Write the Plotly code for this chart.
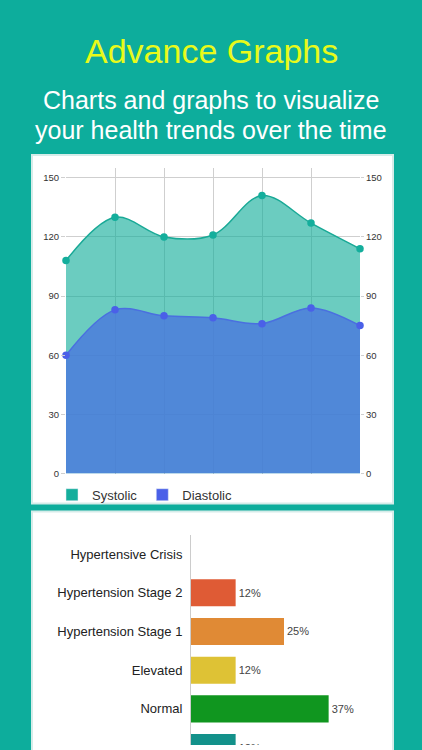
import plotly.graph_objects as go

# blood pressure readings (one per visit)
visits = [0, 1, 2, 3, 4, 5, 6]
systolic = [108, 130, 120, 121, 141, 127, 114]
diastolic = [60, 83, 80, 79, 76, 84, 75]
bp_ticks = [0, 30, 60, 90, 120, 150]

# share of readings per category
categories = [
    "Hypertensive Crisis",
    "Hypertension Stage 2",
    "Hypertension Stage 1",
    "Elevated",
    "Normal",
    "Low",
]
shares = [0, 12, 25, 12, 37, 12]
bar_colors = ["#D9342B", "#DF5B35", "#E08A35", "#DEC235", "#10961F", "#13918A"]

W, H = 422, 750
FONT = "Liberation Sans, Arial, Helvetica, sans-serif"
TEAL = "#0DAD9C"


def px_x(x):
    return x / W


def px_y(y):
    return 1 - y / H


fig = go.Figure()

# area chart
fig.add_trace(
    go.Scatter(
        x=visits,
        y=systolic,
        mode="lines+markers",
        line=dict(shape="spline", color="#19A996", width=1.5),
        marker=dict(size=7.5, color="#14AE9C"),
        fill="tozeroy",
        fillcolor="rgba(20,174,156,0.63)",
        cliponaxis=False,
        showlegend=False,
        hoverinfo="skip",
    )
)
fig.add_trace(
    go.Scatter(
        x=visits,
        y=diastolic,
        mode="lines+markers",
        line=dict(shape="spline", color="#4A6FE0", width=1.5),
        marker=dict(size=7.5, color="#4A60E8"),
        fill="tozeroy",
        fillcolor="rgba(74,119,221,0.8)",
        cliponaxis=False,
        showlegend=False,
        hoverinfo="skip",
    )
)
# invisible trace so the right axis is drawn
fig.add_trace(
    go.Scatter(
        x=visits,
        y=systolic,
        yaxis="y2",
        mode="markers",
        marker=dict(opacity=0),
        showlegend=False,
        hoverinfo="skip",
    )
)
# square legend keys
fig.add_trace(go.Bar(x=[None], y=[None], name="Systolic", marker_color="#14AE9C"))
fig.add_trace(go.Bar(x=[None], y=[None], name="Diastolic", marker_color="#4A60E8"))

# category bar chart
fig.add_trace(
    go.Bar(
        x=shares,
        y=categories,
        orientation="h",
        xaxis="x2",
        yaxis="y3",
        width=0.7,
        marker=dict(color=bar_colors, line=dict(width=0)),
        text=[f"{v}%" if v else "" for v in shares],
        textposition="outside",
        textfont=dict(size=11, color="#444444"),
        cliponaxis=True,
        showlegend=False,
        hoverinfo="skip",
    )
)

grid = "#CFCFCF"
tick_font = dict(size=9.5, color="#333333")

fig.update_layout(
    width=W,
    height=H,
    margin=dict(l=0, r=0, t=0, b=0),
    paper_bgcolor=TEAL,
    plot_bgcolor="white",
    font=dict(family=FONT),
    xaxis=dict(
        domain=[px_x(66), px_x(360)],
        range=[0, 6],
        tickvals=visits,
        showticklabels=False,
        showgrid=True,
        gridcolor=grid,
        zeroline=False,
        anchor="y",
    ),
    yaxis=dict(
        domain=[px_y(476.7), px_y(169)],
        range=[0, 155],
        tickvals=bp_ticks,
        gridcolor=grid,
        zeroline=False,
        ticks="outside",
        ticklen=4,
        tickcolor=grid,
        tickfont=tick_font,
        anchor="x",
    ),
    yaxis2=dict(
        overlaying="y",
        side="right",
        range=[0, 155],
        tickvals=bp_ticks,
        showgrid=False,
        zeroline=False,
        ticks="outside",
        ticklen=3,
        tickcolor=grid,
        tickfont=tick_font,
        anchor="x",
    ),
    xaxis2=dict(
        domain=[px_x(191), px_x(377)],
        range=[0, 50],
        visible=False,
        anchor="y3",
    ),
    yaxis3=dict(
        domain=[0, px_y(538.2)],
        range=[4.931, -0.5],
        showline=True,
        linecolor="#CCCCCC",
        linewidth=1,
        showgrid=False,
        ticks="",
        ticklabelstandoff=5,
        tickfont=dict(size=13, color="#222222"),
        anchor="x2",
    ),
    legend=dict(
        orientation="h",
        x=px_x(52),
        y=px_y(483),
        xanchor="left",
        yanchor="top",
        font=dict(size=13, color="#333333"),
        bgcolor="rgba(0,0,0,0)",
        itemwidth=30,
    ),
    showlegend=True,
    shapes=[
        dict(
            type="rect", xref="paper", yref="paper",
            x0=px_x(32), x1=px_x(393), y0=px_y(507), y1=px_y(156),
            fillcolor="white", line=dict(color="#D5ECE9", width=2), layer="below",
        ),
        dict(
            type="rect", xref="paper", yref="paper",
            x0=px_x(32), x1=px_x(393), y0=-0.05, y1=px_y(515),
            fillcolor="white", line=dict(color="#D5ECE9", width=2), layer="below",
        ),
    ],
    annotations=[
        dict(
            text="Advance Graphs", x=0.5, y=px_y(51), xref="paper", yref="paper",
            xanchor="center", yanchor="middle", showarrow=False,
            font=dict(size=34, color="#E8FA1A", family=FONT),
        ),
        dict(
            text="Charts and graphs to visualize", x=0.5, y=px_y(101),
            xref="paper", yref="paper", xanchor="center", yanchor="middle",
            showarrow=False, font=dict(size=25, color="white", family=FONT),
        ),
        dict(
            text="your health trends over the time", x=0.5, y=px_y(131),
            xref="paper", yref="paper", xanchor="center", yanchor="middle",
            showarrow=False, font=dict(size=25, color="white", family=FONT),
        ),
    ],
)

# drop the browser's default page margin so the figure fills the window
fig.write_html(
    "out.html",
    config={"displayModeBar": False},
    post_script=(
        "document.body.style.margin='0';"
        f"document.body.style.background='{TEAL}';"
    ),
)
